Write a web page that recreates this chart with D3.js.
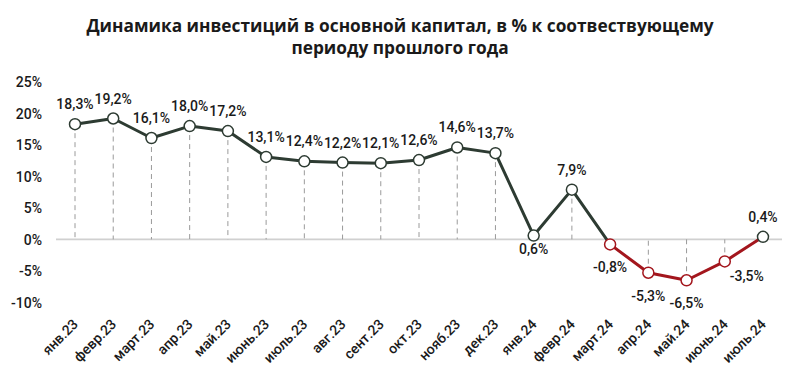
<!DOCTYPE html>
<html><head><meta charset="utf-8">
<script src="https://cdn.jsdelivr.net/npm/d3@7"></script>
<style>body{margin:0;background:#fff}svg{display:block}</style>
</head><body>
<svg id="c" width="800" height="377"></svg>
<script>
const categories = ["янв.23","февр.23","март.23","апр.23","май.23","июнь.23","июль.23","авг.23","сент.23","окт.23","нояб.23","дек.23","янв.24","февр.24","март.24","апр.24","май.24","июнь.24","июль.24"];
const values = [18.3,19.2,16.1,18.0,17.2,13.1,12.4,12.2,12.1,12.6,14.6,13.7,0.6,7.9,-0.8,-5.3,-6.5,-3.5,0.4];
const yTicks = [25,20,15,10,5,0,-5,-10];
const redFrom = "март.24";
// label placement: 'a' above, 'b' below, 'r' right-below
const labelPos = ["a","a","a","a","a","a","a","a","a","a","a","a","b","a","b","b","b","r","a"];
const titleLines = ["Динамика инвестиций в основной капитал, в % к соотвествующему","периоду прошлого года"];

const svg = d3.select("#c");
const green = "#2d3b32", red = "#a3161d";
const x = d3.scalePoint().domain(categories).range([75,763]);
const y = d3.scaleLinear().domain([-10,25]).range([302.3,82]);
const fmt = v => d3.format(".1f")(v).replace(".", ",").replace("−","-") + "%";
const redIdx = categories.indexOf(redFrom);

svg.append("g").selectAll("text").data(titleLines).join("text")
  .attr("x",400).attr("y",(d,i)=>32+i*22).attr("text-anchor","middle")
  .attr("font-family","Open Sans").attr("font-weight",700).attr("font-size",17.3)
  .attr("fill","#1a1a1a").text(d=>d);

// y axis labels
const yAxis = d3.axisLeft(y).tickValues(yTicks).tickFormat(d=>d+"%").tickSize(0).tickPadding(0);
const ga = svg.append("g").attr("transform","translate(42,0)").call(yAxis);
ga.select(".domain").remove();
ga.selectAll("text").attr("font-family","Roboto").attr("font-weight",500).attr("font-size",14).attr("fill","#1a1a1a").attr("dy","0.35em");

// zero line
svg.append("line").attr("x1",56).attr("x2",782).attr("y1",y(0)).attr("y2",y(0))
  .attr("stroke","#d0d0d0").attr("stroke-width",1.8);

// dashed droplines
svg.append("g").selectAll("line").data(categories).join("line")
  .attr("x1",d=>x(d)).attr("x2",d=>x(d))
  .attr("y1",(d,i)=>y(values[i])).attr("y2",y(0))
  .attr("stroke","#9a9a9a").attr("stroke-width",1).attr("stroke-dasharray","5,4");

// line segments
const segs = d3.range(values.length-1).map(i=>({i}));
svg.append("g").selectAll("line").data(segs).join("line")
  .attr("x1",d=>x(categories[d.i])).attr("y1",d=>y(values[d.i]))
  .attr("x2",d=>x(categories[d.i+1])).attr("y2",d=>y(values[d.i+1]))
  .attr("stroke",d=>d.i>=redIdx?red:green).attr("stroke-width",3).attr("stroke-linecap","round");

// markers
svg.append("g").selectAll("circle").data(categories).join("circle")
  .attr("cx",d=>x(d)).attr("cy",(d,i)=>y(values[i])).attr("r",5.5)
  .attr("fill","#fff").attr("stroke",(d,i)=>values[i]<0?red:green).attr("stroke-width",1.5);

// labels
svg.append("g").selectAll("text").data(categories).join("text")
  .attr("x",(d,i)=>x(d)+(labelPos[i]==="r"?22:0))
  .attr("y",(d,i)=>{const p=labelPos[i], v=y(values[i]); return p==="a"?v-15:(p==="r"?v+20:(values[i]<0?v+28:v+18));})
  .attr("text-anchor","middle").attr("font-family","Roboto").attr("font-weight",500).attr("font-size",14).attr("fill","#1a1a1a")
  .text((d,i)=>fmt(values[i]));

// x labels
svg.append("g").selectAll("text").data(categories).join("text")
  .attr("transform",d=>`translate(${x(d)+4},${325}) rotate(-45)`)
  .attr("text-anchor","end").attr("font-family","Roboto").attr("font-weight",500).attr("font-size",14).attr("fill","#1a1a1a")
  .text(d=>d);
</script>
</body></html>
